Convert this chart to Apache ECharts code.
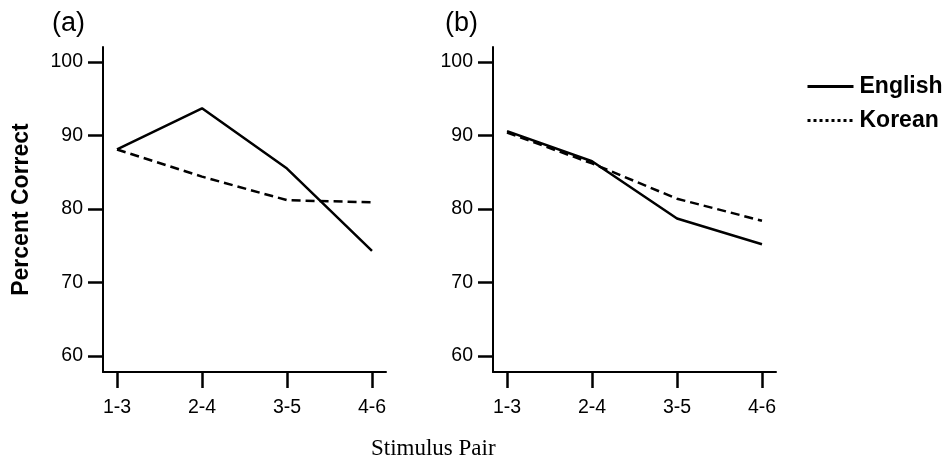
<!DOCTYPE html>
<html>
<head>
<meta charset="utf-8">
<script src="https://cdn.jsdelivr.net/npm/echarts@6/dist/echarts.min.js"></script>
<style>
  html, body { margin: 0; padding: 0; background: #fff; }
  #chart { width: 947px; height: 463px; }
</style>
</head>
<body>
<div id="chart"></div>
<script>
// data
var pairs = ['1-3', '2-4', '3-5', '4-6'];
var yTicks = [60, 70, 80, 90, 100];
var englishA = [88.1, 93.7, 85.5, 74.3];
var koreanA = [88.1, 84.4, 81.2, 80.9];
var englishB = [90.6, 86.5, 78.7, 75.2];
var koreanB = [90.4, 86.2, 81.4, 78.4];

var sans = 'Liberation Sans, Arial, sans-serif';
var black = '#000';

function toPoints(arr) {
    return arr.map(function (v, i) { return [i, v]; });
}

function xAxisFor(idx) {
    return {
        type: 'value',
        gridIndex: idx,
        min: -0.165,
        max: 3.165,
        splitLine: { show: false },
        axisLine: { show: true, onZero: false, lineStyle: { color: black, width: 2 } },
        axisTick: { show: true, customValues: [0, 1, 2, 3], length: 16, lineStyle: { color: black, width: 2.5 } },
        axisLabel: {
            customValues: [0, 1, 2, 3],
            margin: 26,
            color: black,
            fontFamily: sans,
            fontSize: 19.5,
            formatter: function (v) { return pairs[Math.round(v)]; }
        }
    };
}

function yAxisFor(idx) {
    return {
        type: 'value',
        gridIndex: idx,
        min: 57.82,
        max: 102.04,
        splitLine: { show: false },
        axisLine: { show: true, onZero: false, lineStyle: { color: black, width: 2 } },
        axisTick: { show: true, customValues: yTicks, length: 15, lineStyle: { color: black, width: 2.5 } },
        axisLabel: { customValues: yTicks, margin: 20, color: black, fontFamily: sans, fontSize: 19.5 }
    };
}

function lineSeries(name, arr, idx, dashed) {
    return {
        name: name,
        type: 'line',
        xAxisIndex: idx,
        yAxisIndex: idx,
        symbol: 'none',
        silent: true,
        itemStyle: { color: black },
        lineStyle: { color: black, width: 2.5, type: dashed ? [9, 5] : 'solid' },
        data: toPoints(arr)
    };
}

var yAxisA = yAxisFor(0);
yAxisA.name = 'Percent Correct';
yAxisA.nameLocation = 'middle';
yAxisA.nameGap = 70;
yAxisA.nameTextStyle = { color: black, fontFamily: sans, fontSize: 23, fontWeight: 'bold' };

var chart = echarts.init(document.getElementById('chart'));
chart.setOption({
    animation: false,
    backgroundColor: '#fff',
    title: [
        { text: '(a)', left: 47, top: 5, textStyle: { color: black, fontFamily: sans, fontSize: 27, fontWeight: 'normal' } },
        { text: '(b)', left: 440, top: 5, textStyle: { color: black, fontFamily: sans, fontSize: 27, fontWeight: 'normal' } },
        { text: 'Stimulus Pair', left: 366, top: 432, textStyle: { color: black, fontFamily: 'Liberation Serif, Times New Roman, serif', fontSize: 23, fontWeight: 'normal' } }
    ],
    legend: {
        orient: 'vertical',
        left: 801,
        top: 70,
        itemWidth: 46,
        itemHeight: 14,
        itemGap: 11,
        selectedMode: false,
        textStyle: { color: black, fontFamily: sans, fontSize: 23, fontWeight: 'bold', lineHeight: 23, padding: [0, 0, 0, 1] },
        data: [
            { name: 'English', itemStyle: { opacity: 0 }, lineStyle: { color: black, width: 3, type: 'solid' } },
            { name: 'Korean', itemStyle: { opacity: 0 }, lineStyle: { color: black, width: 3, type: 'dotted' } }
        ]
    },
    grid: [
        { left: 103, top: 47, width: 283, height: 325 },
        { left: 493, top: 47, width: 283, height: 325 }
    ],
    xAxis: [xAxisFor(0), xAxisFor(1)],
    yAxis: [yAxisA, yAxisFor(1)],
    series: [
        lineSeries('English', englishA, 0, false),
        lineSeries('Korean', koreanA, 0, true),
        lineSeries('English', englishB, 1, false),
        lineSeries('Korean', koreanB, 1, true)
    ]
});
</script>
</body>
</html>
